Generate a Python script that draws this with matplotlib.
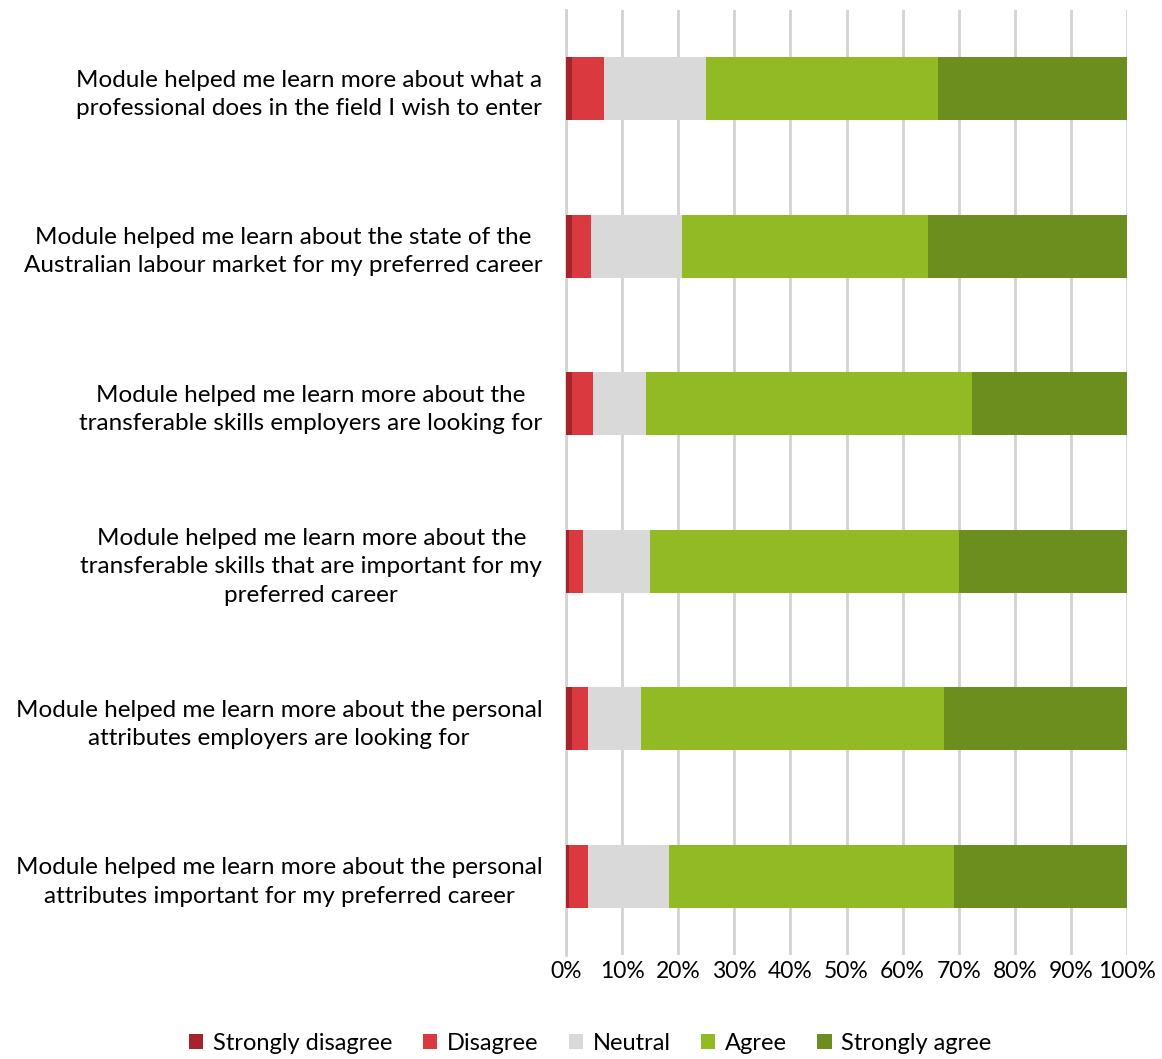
import matplotlib.pyplot as plt
import numpy as np

plt.rcParams['font.family'] = ['Lato', 'DejaVu Sans']

statements = [
    "Module helped me learn more about what a\nprofessional does in the field I wish to enter",
    "Module helped me learn about the state of the\nAustralian labour market for my preferred career",
    "Module helped me learn more about the\ntransferable skills employers are looking for",
    "Module helped me learn more about the\ntransferable skills that are important for my\npreferred career",
    "Module helped me learn more about the personal\nattributes employers are looking for",
    "Module helped me learn more about the personal\nattributes important for my preferred career",
]
categories = ["Strongly disagree", "Disagree", "Neutral", "Agree", "Strongly agree"]

# percentages per response
strongly_disagree = [1.1, 1.1, 1.1, 0.6, 1.1, 0.6]
disagree = [5.7, 3.4, 3.8, 2.4, 2.8, 3.3]
neutral = [18.1, 16.1, 9.4, 12.0, 9.5, 14.4]
agree = [41.4, 44.0, 58.0, 55.0, 53.9, 50.8]
strongly_agree = [33.7, 35.4, 27.7, 30.0, 32.7, 30.9]

colors = ['#A6232B', '#D9393F', '#D9D9D9', '#92BA24', '#6B8E1E']

series = [strongly_disagree, disagree, neutral, agree, strongly_agree]

fig = plt.figure(figsize=(11.62, 10.59), dpi=100)
ax = fig.add_axes([0.487, 0.098, 0.483, 0.8926])

y = np.arange(len(statements))
left = np.zeros(len(statements))
for vals, col, name in zip(series, colors, categories):
    ax.barh(y, vals, left=left, height=0.4, color=col, label=name, zorder=3)
    left += np.array(vals)

ax.set_xlim(0, 100)
ax.set_ylim(len(statements) - 0.5, -0.5)
ax.set_xticks(np.arange(0, 101, 10))
ax.set_xticklabels([f"{v}%" for v in range(0, 101, 10)], fontsize=16.5)
ax.set_yticks(y)
ax.set_yticklabels(statements, fontsize=17.5, ha='right', multialignment='center',
                   linespacing=1.42)
ax.tick_params(axis='y', length=0, pad=17)
ax.tick_params(axis='x', length=0, pad=4)
ax.grid(axis='x', color='#D3D3D3', linewidth=2, zorder=0)
for s in ['top', 'right', 'bottom']:
    ax.spines[s].set_visible(False)
ax.spines['left'].set_color('#D3D3D3')
ax.spines['left'].set_linewidth(2)

fig.legend(loc='center', bbox_to_anchor=(0.508, 0.015), ncol=5, frameon=False,
           fontsize=17, handlelength=0.6, handleheight=0.6, handletextpad=0.4,
           columnspacing=1.3)

fig.savefig('out.png', dpi=100)
